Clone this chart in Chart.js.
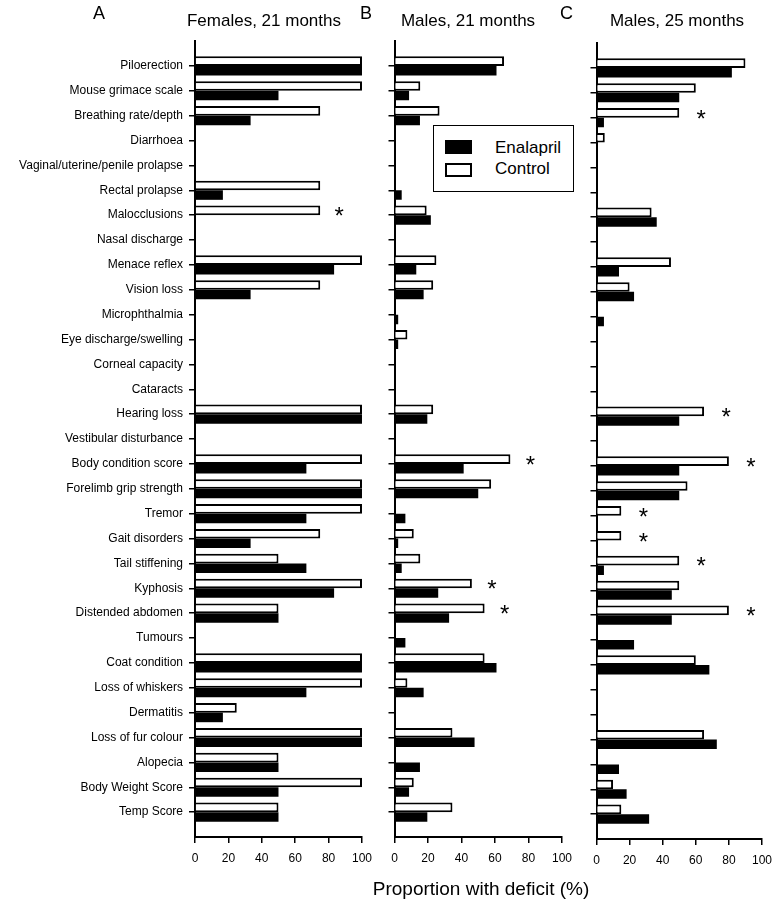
<!DOCTYPE html>
<html><head><meta charset="utf-8">
<script src="https://cdn.jsdelivr.net/npm/chart.js@4/dist/chart.umd.min.js"></script>
<style>
html,body{margin:0;padding:0;background:#fff;}
#wrap{position:relative;width:780px;height:906px;overflow:hidden;font-family:"Liberation Sans",Arial,sans-serif;color:#000;}
canvas{position:absolute;top:0;}
.t{position:absolute;white-space:nowrap;line-height:1;}
.ctr{text-align:center;}
#legend{position:absolute;left:433px;top:125px;width:141px;height:67px;box-sizing:border-box;border:1.5px solid #000;background:#fff;z-index:5;}
.sw{position:absolute;left:11px;width:27px;height:14px;box-sizing:border-box;}
.lt{position:absolute;left:61px;font-size:17px;line-height:20px;}
</style></head><body>
<div id="wrap">
<canvas id="cA" width="380" height="880" style="left:0px"></canvas>
<canvas id="cB" width="200" height="880" style="left:380px"></canvas>
<canvas id="cC" width="200" height="880" style="left:580px"></canvas>
<div class="t" style="left:93px;top:4px;font-size:18px">A</div>
<div class="t" style="left:360px;top:4px;font-size:18px">B</div>
<div class="t" style="left:560px;top:4px;font-size:18px">C</div>
<div class="t ctr" style="left:164px;width:200px;top:12px;font-size:17px">Females, 21 months</div>
<div class="t ctr" style="left:368px;width:200px;top:12px;font-size:17px">Males, 21 months</div>
<div class="t ctr" style="left:577px;width:200px;top:12px;font-size:17px">Males, 25 months</div>
<div class="t ctr" style="left:281px;width:400px;top:879px;font-size:19px">Proportion with deficit (%)</div>
<div id="legend">
  <div class="sw" style="top:14px;background:#000"></div>
  <div class="lt" style="top:12px">Enalapril</div>
  <div class="sw" style="top:37px;background:#fff;border:2px solid #000"></div>
  <div class="lt" style="top:33px">Control</div>
</div>
</div>
<script>
const categories = ["Piloerection","Mouse grimace scale","Breathing rate/depth","Diarrhoea","Vaginal/uterine/penile prolapse","Rectal prolapse","Malocclusions","Nasal discharge","Menace reflex","Vision loss","Microphthalmia","Eye discharge/swelling","Corneal capacity","Cataracts","Hearing loss","Vestibular disturbance","Body condition score","Forelimb grip strength","Tremor","Gait disorders","Tail stiffening","Kyphosis","Distended abdomen","Tumours","Coat condition","Loss of whiskers","Dermatitis","Loss of fur colour","Alopecia","Body Weight Score","Temp Score"];
const xTicks = [0,20,40,60,80,100];

const femCtrl = [100,100,75,0,0,75,75,0,100,75,0,0,0,0,100,0,100,100,100,75,50,100,50,0,100,100,25,100,50,100,50];
const femEna  = [100,50,33.3,0,0,16.7,0,0,83.3,33.3,0,0,0,0,100,0,66.7,100,66.7,33.3,66.7,83.3,50,0,100,66.7,16.7,100,50,50,50];
const femSig  = [6];

const m21Ctrl = [65.4,15.4,26.9,0,0,0,19.2,0,25,23.1,0,7.7,0,0,23.1,0,69.2,57.7,0,11.5,15.4,46.2,53.8,0,53.8,7.7,0,34.6,0,11.5,34.6];
const m21Ena  = [60.9,8.7,15.2,0,0,4.3,21.7,0,13,17.4,2.2,2.2,0,0,19.6,0,41.3,50,6.5,2.2,4.3,26.1,32.6,6.5,60.9,17.4,0,47.8,15.2,8.7,19.6];
const m21Sig  = [16,21,22];

const m25Ctrl = [90,60,50,5,0,0,33.3,0,45,20,0,0,0,0,65,0,80,55,15,15,50,50,80,0,60,0,0,65,0,10,15];
const m25Ena  = [81.8,50,4.5,0,0,0,36.4,0,13.6,22.7,4.5,0,0,0,50,0,50,50,0,0,4.5,45.5,45.5,22.7,68.2,0,0,72.7,13.6,18.2,31.8];
const m25Sig  = [2,14,16,18,19,20,22];

const FONT = '"Liberation Sans", Arial, sans-serif';

function starPlugin(sig, ctrl, ena, gap) {
  return {
    id: 'stars',
    afterDatasetsDraw(chart) {
      const ctx = chart.ctx, xs = chart.scales.x, ys = chart.scales.y;
      ctx.save();
      ctx.font = '24px ' + FONT;
      ctx.fillStyle = '#000';
      ctx.textAlign = 'center';
      ctx.textBaseline = 'alphabetic';
      sig.forEach(i => {
        const v = Math.max(ctrl[i], ena[i]);
        ctx.fillText('*', xs.getPixelForValue(v) + gap, ys.getPixelForValue(i) + 9);
      });
      ctx.restore();
    }
  };
}

function makePanel(id, ctrl, ena, sig, o) {
  new Chart(document.getElementById(id), {
    type: 'bar',
    data: {
      datasets: [
        { label: 'Control', data: ctrl.map((v, i) => ({ x: v, y: i })), backgroundColor: '#fff', borderColor: '#000', borderWidth: 2, categoryPercentage: 0.77, barPercentage: 1.0 },
        { label: 'Enalapril', data: ena.map((v, i) => ({ x: v, y: i })), backgroundColor: '#000', borderWidth: 0, categoryPercentage: 0.77, barPercentage: 1.0 }
      ]
    },
    options: {
      indexAxis: 'y',
      responsive: false,
      animation: false,
      devicePixelRatio: 1,
      layout: { padding: { top: o.top, right: o.right, left: 0, bottom: 0 } },
      plugins: { legend: { display: false }, tooltip: { enabled: false } },
      scales: {
        x: {
          type: 'linear', position: 'bottom', min: xTicks[0], max: xTicks[xTicks.length - 1], offset: false,
          afterBuildTicks: s => { s.ticks = xTicks.map(v => ({ value: v })); },
          ticks: { color: '#000', font: { family: FONT, size: 12 }, padding: 8, maxRotation: 0 },
          grid: { offset: false, drawOnChartArea: false, drawTicks: true, tickLength: 6, color: '#000', lineWidth: 1.5 },
          border: { display: true, color: '#000', width: 2 },
          afterFit: s => { s.height = o.xh; }
        },
        y: {
          type: 'linear', position: 'left', reverse: true, min: -1, max: categories.length, offset: false,
          afterBuildTicks: s => { s.ticks = categories.map((c, i) => ({ value: i })); },
          ticks: { display: o.labels, autoSkip: false, callback: v => categories[v], color: '#000', font: { family: FONT, size: 12 }, padding: 6 },
          grid: { offset: false, drawOnChartArea: false, drawTicks: true, tickLength: 6, color: '#000', lineWidth: 1.5 },
          border: { display: true, color: '#000', width: 2 },
          afterFit: s => { s.width = o.yw; }
        }
      }
    },
    plugins: [starPlugin(sig, ctrl, ena, o.gap)]
  });
}

makePanel('cA', femCtrl, femEna, femSig, { top: 41, right: 15, xh: 43, yw: 195, labels: true, gap: 19 });
makePanel('cB', m21Ctrl, m21Ena, m21Sig, { top: 41, right: 15, xh: 43, yw: 14.5, labels: false, gap: 20 });
makePanel('cC', m25Ctrl, m25Ena, m25Sig, { top: 43, right: 13, xh: 41, yw: 16.5, labels: false, gap: 22 });
</script>
</body></html>
